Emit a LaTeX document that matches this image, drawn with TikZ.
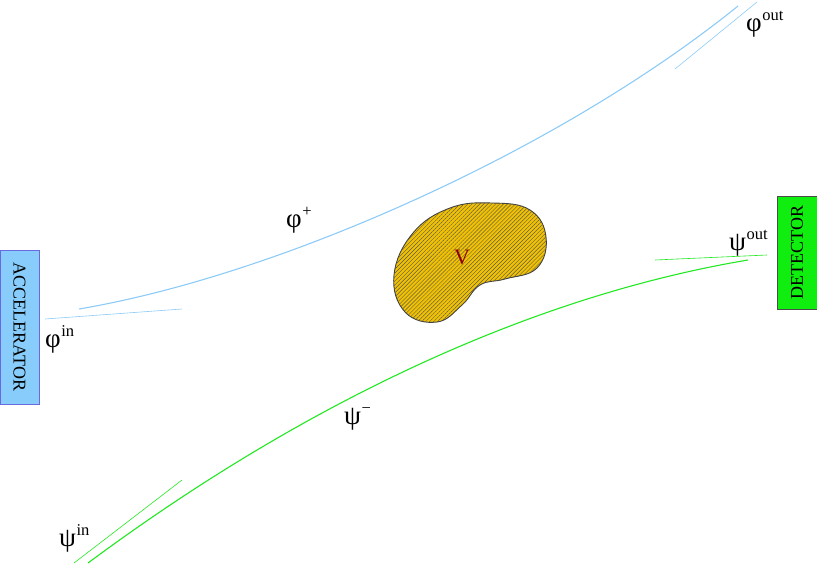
\documentclass[tikz,border=0pt]{standalone}
\usepackage{fontspec}
\setmainfont{Liberation Serif}
\usetikzlibrary{patterns.meta}
\definecolor{skyb}{HTML}{8CCBF7}
\definecolor{accfill}{HTML}{87CCFA}
\definecolor{accdraw}{HTML}{6A6AE0}
\definecolor{grn}{HTML}{22E822}
\definecolor{detfill}{HTML}{10EE10}
\definecolor{gold}{HTML}{F2C200}
\definecolor{vred}{HTML}{8B0000}
\newcommand{\lbl}[2]{{\fontsize{27}{29}\selectfont #1\kern0.5pt\raisebox{0.40em}{\fontsize{16.5}{18}\selectfont #2}}}
\begin{document}
\begin{tikzpicture}[x=1pt,y=-1pt,
  box/.style={draw, line width=0.8pt, inner sep=0pt, font=\fontsize{18}{20}\selectfont},
  beam/.style={line width=1.1pt},
  thin/.style={line width=0.6pt},
  lab/.style={inner sep=0pt, anchor=base west}]
\useasboundingbox (0,0) rectangle (817,565);
% boxes
\node[box, fill=accfill, draw=accdraw, minimum width=39pt, minimum height=154pt] (acc) at (19.5,327) {};
\node[rotate=-90, font=\fontsize{18}{20}\selectfont] (acct) at (acc.center) {ACCELERATOR};
\node[box, fill=detfill, draw=black!70, minimum width=40pt, minimum height=113pt] (det) at (797,252.5) {};
\node[rotate=90, font=\fontsize{18}{20}\selectfont] (dett) at (det.center) {DETECTOR};
% coordinates
\coordinate (p0) at (79,309);
\coordinate (p1) at (280,275);
\coordinate (p2) at (560,150);
\coordinate (p3) at (738,6);
\coordinate (pa) at (45,319);
\coordinate (pb) at (182,309);
\coordinate (pc) at (675,69);
\coordinate (pd) at (757,2);
\coordinate (q0) at (88,563);
\coordinate (q1) at (200,480);
\coordinate (q2) at (450,310);
\coordinate (q3) at (748,260);
\coordinate (qa) at (74,563);
\coordinate (qb) at (182,480);
\coordinate (qc) at (655,260);
\coordinate (qd) at (767,255);
% beams
\draw[beam, skyb] (p0) .. controls (p1) and (p2) .. (p3);
\draw[thin, skyb] (pa) -- (pb);
\draw[thin, skyb] (pc) -- (pd);
\draw[beam, grn] (q0) .. controls (q1) and (q2) .. (q3);
\draw[thin, grn] (qa) -- (qb);
\draw[thin, grn] (qc) -- (qd);
% blob
\draw[line width=0.9pt, draw=black!75, fill=gold,
  postaction={pattern={Lines[angle=45, distance=2.8pt, line width=0.45pt]}, pattern color=black!65}]
  plot[smooth cycle, tension=0.7] coordinates {(413,233) (450,208) (492,203) (530,210) (546,237) (537,268) (505,279) (480,285) (462,305) (437,322) (405,312) (394,275)};
\node[font=\fontsize{22}{24}\selectfont, text=vred] (v) at (462,257) {V};
% labels
\node[lab] (phin) at (45,347) {\lbl{φ}{in}};
\node[lab] (phplus) at (286,227) {\lbl{φ}{+}};
\node[lab] (phout) at (746,31) {\lbl{φ}{out}};
\node[lab] (psin) at (59,546) {\lbl{ψ}{in}};
\node[lab] (psminus) at (344,424) {\lbl{ψ}{−}};
\node[lab] (psout) at (729,250) {\lbl{ψ}{out}};
\end{tikzpicture}
\end{document}
